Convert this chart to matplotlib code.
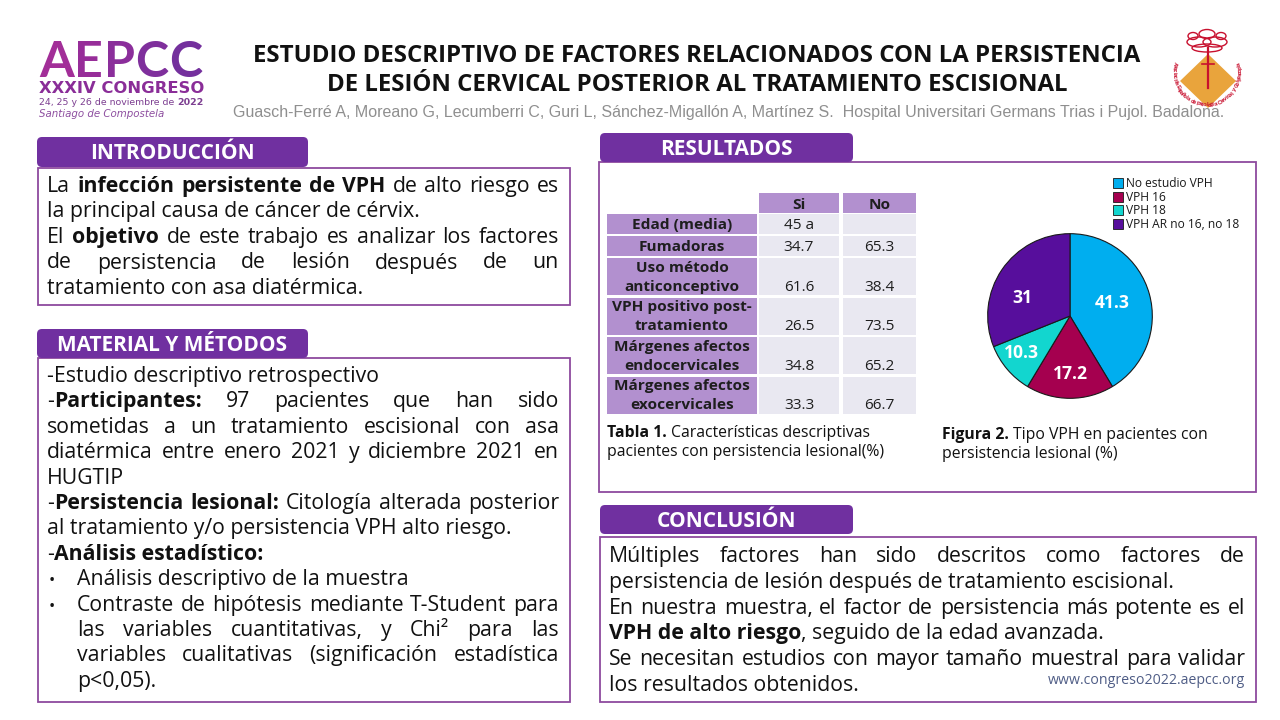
import matplotlib
matplotlib.use('Agg')
import matplotlib.pyplot as plt
from matplotlib.patches import FancyBboxPatch, Rectangle, Polygon, Ellipse
import numpy as np

# ---------------- DATA ----------------
title_lines = ["ESTUDIO DESCRIPTIVO DE FACTORES RELACIONADOS CON LA PERSISTENCIA",
               "DE LESIÓN CERVICAL POSTERIOR AL TRATAMIENTO ESCISIONAL"]
authors = ("Guasch-Ferré A, Moreano G, Lecumberri C, Guri L, Sánchez-Migallón A, Martínez S.  "
           "Hospital Universitari Germans Trias i Pujol. Badalona.")
section_titles = ["INTRODUCCIÓN", "MATERIAL Y MÉTODOS", "RESULTADOS", "CONCLUSIÓN"]

table_cols = ["Si", "No"]
table_rows = ["Edad (media)", "Fumadoras", "Uso método\nanticonceptivo",
              "VPH positivo post-\ntratamiento", "Márgenes afectos\nendocervicales",
              "Márgenes afectos\nexocervicales"]
table_si = ["45 a", "34.7", "61.6", "26.5", "34.8", "33.3"]
table_no = ["", "65.3", "38.4", "73.5", "65.2", "66.7"]

pie_labels = ["No estudio VPH", "VPH 16", "VPH 18", "VPH AR no 16, no 18"]
pie_values = [41.3, 17.2, 10.3, 31]

intro_lines = [
    ([("La ", 0), ("infección persistente de VPH", 1), (" de alto riesgo es", 0)], True),
    ([("la principal causa de cáncer de cérvix.", 0)], False),
    ([("El ", 0), ("objetivo", 1), (" de este trabajo es analizar los factores", 0)], True),
    ([("de persistencia de lesión después de un", 0)], True),
    ([("tratamiento con asa diatérmica.", 0)], False),
]
mm_lines = [
    ([("-Estudio descriptivo retrospectivo", 0)], False, 0),
    ([("-", 0), ("Participantes:", 1), (" 97 pacientes que han sido", 0)], True, 0),
    ([("sometidas a un tratamiento escisional con asa", 0)], True, 0),
    ([("diatérmica entre enero 2021 y diciembre 2021 en", 0)], True, 0),
    ([("HUGTIP", 0)], False, 0),
    ([("-", 0), ("Persistencia lesional:", 1), (" Citología alterada posterior", 0)], True, 0),
    ([("al tratamiento y/o persistencia VPH alto riesgo.", 0)], False, 0),
    ([("-", 0), ("Análisis estadístico:", 1)], False, 0),
    ([("Análisis descriptivo de la muestra", 0)], False, 2),
    ([("Contraste de hipótesis mediante T-Student para", 0)], True, 2),
    ([("las variables cuantitativas, y Chi² para las", 0)], True, 1),
    ([("variables cualitativas (significación estadística", 0)], True, 1),
    ([("p<0,05).", 0)], False, 1),
]
concl_lines = [
    ([("Múltiples factores han sido descritos como factores de", 0)], True),
    ([("persistencia de lesión después de tratamiento escisional.", 0)], False),
    ([("En nuestra muestra, el factor de persistencia más potente es el", 0)], True),
    ([("VPH de alto riesgo", 1), (", seguido de la edad avanzada.", 0)], False),
    ([("Se necesitan estudios con mayor tamaño muestral para validar", 0)], True),
    ([("los resultados obtenidos.", 0)], False),
]
website = "www.congreso2022.aepcc.org"
logo_big = "AEPCC"
logo_congress = "XXXIV CONGRESO"
logo_dates = [("24, 25 y 26 de noviembre de ", 0), ("2022", 1)]
logo_place = "Santiago de Compostela"
logo_ring_text = "Asociación Española de Patología Cervical y Colposcopia"

# ---------------- STYLE ----------------
FS = 'Open Sans'
HEAD = '#7030A0'
BORDER = '#8E4A9E'
TXT = '#111111'
CELL_HEAD = '#B290CF'
CELL_VAL = '#E9E8F1'
pie_colors = ['#00AEEF', '#A5004F', '#12D6CF', '#570E9C']
PX = 100 / 72.0

fig = plt.figure(figsize=(12.8, 7.2), dpi=100)
fig.patch.set_facecolor('white')
ax = fig.add_axes([0, 0, 1, 1])
ax.set_xlim(0, 1280)
ax.set_ylim(720, 0)
ax.axis('off')
renderer = fig.canvas.get_renderer()


def measure(s, size, weight='normal', family=FS, style='normal'):
    t = ax.text(0, 0, s, fontsize=size, fontweight=weight, family=family, fontstyle=style)
    w = t.get_window_extent(renderer).width
    t.remove()
    return w


def fit(s, target, weight='normal', family=FS, style='normal', base=20.0):
    return base * target / measure(s, base, weight, family, style)


def to_words(segs):
    words, cur = [], []
    for text, b in segs:
        parts = text.split(' ')
        for i, p in enumerate(parts):
            if i > 0 and cur:
                words.append(cur)
                cur = []
            if p:
                cur.append((p, b))
    if cur:
        words.append(cur)
    return words


def put(x, y, s, size, b, color, family, **kw):
    ax.text(x, y, s, fontsize=size, fontweight='bold' if b else 'normal',
            family=family, color=color, va='baseline', ha='left', **kw)


def draw_line(segs, x0, x1, y, size, justify=False, color=TXT, family=FS):
    sp = measure('n n', size, family=family) - measure('nn', size, family=family)
    if not justify:
        x = x0
        for text, b in segs:
            if text.startswith(' '):
                x += sp
            core = text.strip(' ')
            put(x, y, core, size, b, color, family)
            x += measure(core, size, 'bold' if b else 'normal', family)
            if text.endswith(' '):
                x += sp
        return
    words = to_words(segs)
    ws = [[measure(p, size, 'bold' if b else 'normal', family) for p, b in w] for w in words]
    totals = [sum(a) for a in ws]
    gap = (x1 - x0 - sum(totals)) / (len(words) - 1) if len(words) > 1 else sp
    x = x0
    for w, wl, tot in zip(words, ws, totals):
        xx = x
        for (p, b), pw in zip(w, wl):
            put(xx, y, p, size, b, color, family)
            xx += pw
        x += tot + gap


def header(x0, x1, y0, y1, label, size):
    ax.add_patch(FancyBboxPatch((x0, y0), x1 - x0, y1 - y0,
                                boxstyle='round,pad=0,rounding_size=5',
                                fc=HEAD, ec='none', zorder=2))
    ax.text((x0 + x1) / 2, (y0 + y1) / 2 + 0.357 * size * PX, label, ha='center',
            va='baseline', color='white', fontsize=size, fontweight='bold', family=FS, zorder=3)


def box(x0, x1, y0, y1):
    ax.add_patch(Rectangle((x0, y0), x1 - x0, y1 - y0, fc='white', ec=BORDER, lw=1.3, zorder=1))


# ---------------- TITLE ----------------
tsize = fit(title_lines[0], 887, 'bold')
for line, yc in zip(title_lines, [53, 82]):
    ax.text(697, yc + 0.357 * tsize * PX, line, ha='center', va='baseline',
            fontsize=tsize, fontweight='bold', family=FS, color=TXT)
asize = fit(authors, 989, family='Liberation Sans')
ax.text(233, 111 + 0.358 * asize * PX, authors, ha='left', va='baseline', fontsize=asize,
        family='Liberation Sans', color='#8F8F8F')

# ---------------- AEPCC LOGO ----------------
grad = ['#A22E98', '#972D99', '#8B2E9B', '#7F2F9C', '#74309D']
track = 0.6
big_size = 20.0 * (164 - track * (len(logo_big) - 1)) / sum(
    measure(ch, 20.0, 'bold', 'Lato') for ch in logo_big)
x = 39
for ch, c in zip(logo_big, grad):
    put(x, 77, ch, big_size, 1, c, 'Lato')
    x += measure(ch, big_size, 'bold', 'Lato') + track
csize = fit(logo_congress, 165, 'bold', family='DejaVu Sans')
put(39, 93, logo_congress, csize, 1, '#8A2D98', 'DejaVu Sans')
dsize = fit("24, 25 y 26 de noviembre de 2022", 163, family='DejaVu Sans')
draw_line(logo_dates, 39, 204, 105, dsize, color='#7D3F91', family='DejaVu Sans')
ssize = fit(logo_place, 126, family='DejaVu Sans', style='italic')
ax.text(39, 117, logo_place, fontsize=ssize, family='DejaVu Sans', fontstyle='italic',
        color='#8E4FA0', va='baseline')

# ---------------- RIGHT LOGO ----------------
lcx, lcy = 1207, 72
ax.add_patch(Polygon([[lcx + 1, lcy - 18], [lcx + 29, lcy + 9], [lcx + 1, lcy + 36],
                      [lcx - 27, lcy + 9]], closed=True, fc='#E9A43C', ec='none', zorder=2))
ax.plot([lcx + 1, lcx + 1], [lcy - 24, lcy + 16], color='#C8102E', lw=1.6, zorder=3)
ax.plot([lcx - 5, lcx + 7], [lcy - 8, lcy - 8], color='#C8102E', lw=1.2, zorder=3)
for dx, dy, w_, h_ in [(-8, -30, 24, 10), (8, -30, 24, 10), (0, -38, 16, 9),
                       (0, -24, 30, 8), (-14, -36, 10, 7), (14, -36, 10, 7)]:
    ax.add_patch(Ellipse((lcx + dx, lcy + dy), w_, h_, fc='none', ec='#C8102E', lw=1.0, zorder=3))
r_ring = 33
angs = np.linspace(165, 375, len(logo_ring_text))
for ch, a in zip(logo_ring_text, angs):
    th = np.deg2rad(a)
    ax.text(lcx + r_ring * np.cos(th), lcy - r_ring * np.sin(th), ch, fontsize=4.3,
            color='#C8102E', rotation=(a + 90) % 360, rotation_mode='anchor',
            ha='center', va='center', family='Liberation Sans', fontweight='bold', zorder=3)

# ---------------- SECTION HEADERS & BOXES ----------------
hsize = fit("INTRODUCCIÓN", 164, 'bold')
box(38, 570, 168, 305)
header(37, 308, 137, 167, section_titles[0], hsize)
box(38, 570, 358, 702)
header(37, 308, 329, 358, section_titles[1], hsize)
box(599, 1256, 162, 492)
header(600, 853, 133, 162, section_titles[2], hsize)
box(600, 1256, 537, 702)
header(600, 853, 505, 534, section_titles[3], hsize)

# ---------------- BODY TEXT ----------------
bsize = fit("la principal causa de cáncer de cérvix.", 371)
for i, (segs, j) in enumerate(intro_lines):
    draw_line(segs, 47, 559, 192 + 25.5 * i, bsize, justify=j)
for i, (segs, j, ind) in enumerate(mm_lines):
    y = 382 + 25.4 * i
    x0 = 47 if ind == 0 else 77
    if ind == 2:
        ax.text(52, y, "•", fontsize=bsize * 0.8, family=FS, color=TXT, va='baseline', ha='center')
    draw_line(segs, x0, 559, y, bsize, justify=j)
for i, (segs, j) in enumerate(concl_lines):
    draw_line(segs, 609, 1245, 562 + 25.8 * i, bsize, justify=j)
wsize = fit(website, 196)
ax.text(1245, 684, website, fontsize=wsize, family=FS, color='#4F5D86', ha='right', va='baseline')

# ---------------- TABLE ----------------
lab_x = (607, 757)
col_x = [(759, 839), (843, 916)]
tsz = fit("Edad (media)", 100, 'bold')
em = tsz * PX
for (c0, c1), name in zip(col_x, table_cols):
    ax.add_patch(Rectangle((c0, 193), c1 - c0, 19.5, fc=CELL_HEAD, ec='none', zorder=2))
    ax.text((c0 + c1) / 2, 203 + 0.36 * em, name, ha='center', va='baseline', fontsize=tsz,
            fontweight='bold', family=FS, color='#1E1E1E', zorder=3)
y = 214
for lab, si, no in zip(table_rows, table_si, table_no):
    lines = lab.split('\n')
    h = 19.5 if len(lines) == 1 else 37
    ax.add_patch(Rectangle((lab_x[0], y), lab_x[1] - lab_x[0], h, fc=CELL_HEAD, ec='none', zorder=2))
    for (c0, c1) in col_x:
        ax.add_patch(Rectangle((c0, y), c1 - c0, h, fc=CELL_VAL, ec='none', zorder=2))
    centers = [y + h / 2] if len(lines) == 1 else [y + 8.5, y + 27.5]
    for ln, yc in zip(lines, centers):
        ax.text((lab_x[0] + lab_x[1]) / 2, yc + 0.34 * em, ln, ha='center', va='baseline',
                fontsize=tsz, fontweight='bold', family=FS, color='#1E1E1E', zorder=3)
    for (c0, c1), v in zip(col_x, [si, no]):
        ax.text((c0 + c1) / 2, centers[-1] + 0.34 * em, v, ha='center', va='baseline',
                fontsize=tsz, family=FS, color='#1E1E1E', zorder=3)
    y += h + 2.5

capsize = fit("pacientes con persistencia lesional(%)", 275)
draw_line([("Tabla 1.", 1), (" Características descriptivas", 0)], 607, 900, 437, capsize)
draw_line([("pacientes con persistencia lesional(%)", 0)], 607, 900, 456, capsize)
draw_line([("Figura 2.", 1), (" Tipo VPH en pacientes con", 0)], 942, 1240, 439, capsize)
draw_line([("persistencia lesional (%)", 0)], 942, 1240, 458, capsize)

# ---------------- PIE ----------------
PIE_CX, PIE_CY, PIE_R = 1070, 316, 84
pax = fig.add_axes([(PIE_CX - PIE_R) / 1280, 1 - (PIE_CY + PIE_R) / 720,
                    2 * PIE_R / 1280, 2 * PIE_R / 720])
wedges, _ = pax.pie(pie_values, colors=pie_colors, startangle=90, counterclock=False,
                    radius=0.98, wedgeprops=dict(edgecolor='#1a1a1a', linewidth=0.8))
pax.set_xlim(-1, 1)
pax.set_ylim(-1, 1)
pax.set_aspect('equal')
label_dist = [0.53, 0.69, 0.73, 0.61]
label_rot = [2, 0, -3, 13]
psize = fit("41.3", 35, 'bold')
for w, v, d, r in zip(wedges, pie_values, label_dist, label_rot):
    ang = np.deg2rad((w.theta1 + w.theta2) / 2 + r)
    pax.text(d * np.cos(ang), d * np.sin(ang), f"{v:g}", ha='center', va='center',
             color='white', fontweight='bold', fontsize=psize, family=FS)

legsize = fit("No estudio VPH", 87)
for i, (lab, c) in enumerate(zip(pie_labels, pie_colors)):
    yc = 183 + 13.5 * i
    ax.add_patch(Rectangle((1113, yc - 5), 10, 10, fc=c, ec='#1a1a1a', lw=0.6, zorder=3))
    ax.text(1126, yc + 0.36 * legsize * PX, lab, fontsize=legsize, family=FS, color='#1a1a1a',
            va='baseline', ha='left', zorder=3)

fig.savefig('out.png', dpi=100, facecolor='white')
